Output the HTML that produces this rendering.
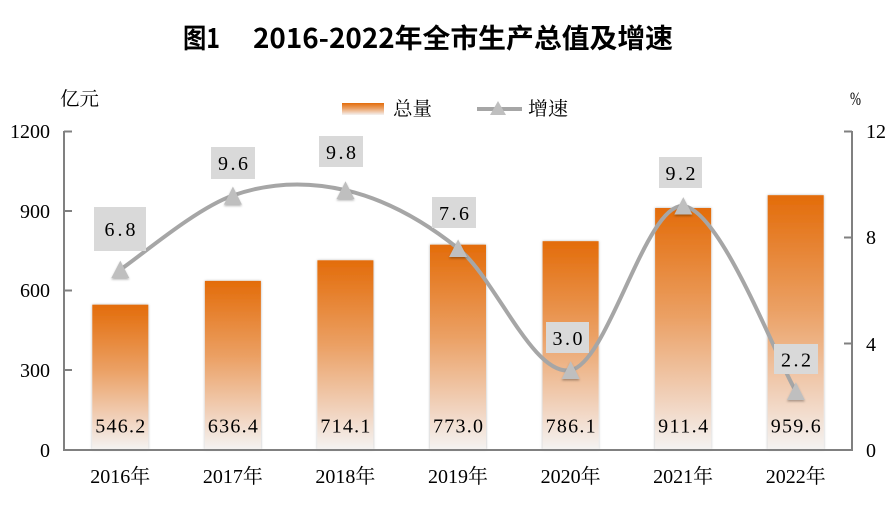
<!DOCTYPE html>
<html><head><meta charset="utf-8"><style>
html,body{margin:0;padding:0;background:#fff;}
svg{display:block;}
</style></head><body>
<svg width="896" height="505" viewBox="0 0 896 505" xmlns="http://www.w3.org/2000/svg">
<defs>
<linearGradient id="bg" x1="0" y1="0" x2="0" y2="1">
<stop offset="0" stop-color="#E36C0A"/>
<stop offset="0.45" stop-color="#EBA064"/>
<stop offset="0.8" stop-color="#F1D3BE"/>
<stop offset="1" stop-color="#F4F3F2"/>
</linearGradient>
<filter id="sh" x="-20%" y="-5%" width="140%" height="110%">
<feDropShadow dx="0" dy="0" stdDeviation="1.3" flood-color="#000" flood-opacity="0.3"/>
</filter>
<filter id="tsh" x="-30%" y="-30%" width="160%" height="170%">
<feDropShadow dx="0" dy="1.5" stdDeviation="1" flood-color="#000" flood-opacity="0.3"/>
</filter>
</defs>
<rect width="896" height="505" fill="#fff"/>

<!-- Title -->
<g font-family="'Noto Sans CJK SC','WenQuanYi Zen Hei',sans-serif" font-weight="bold" font-size="27" fill="#000">
<text x="183" y="48" textLength="37" lengthAdjust="spacingAndGlyphs">图1</text>
<text x="253" y="48" textLength="420" lengthAdjust="spacingAndGlyphs">2016-2022年全市生产总值及增速</text>
</g>

<!-- Legend -->
<rect x="342" y="103" width="42" height="12" fill="url(#bg)"/>
<text x="393" y="115" font-family="'Noto Serif CJK SC','Noto Sans CJK SC',serif" font-size="19" fill="#000" textLength="39" lengthAdjust="spacingAndGlyphs">总量</text>
<line x1="477" y1="109" x2="522" y2="109" stroke="#A6A6A6" stroke-width="4"/>
<polygon points="498,101 506,115 490,115" fill="#BFBFBF"/>
<text x="528" y="115" font-family="'Noto Serif CJK SC','Noto Sans CJK SC',serif" font-size="19" fill="#000" textLength="40" lengthAdjust="spacingAndGlyphs">增速</text>

<!-- Axis units -->
<text x="60" y="105" font-family="'Noto Serif CJK SC','Noto Sans CJK SC',serif" font-size="19" fill="#000" textLength="39" lengthAdjust="spacingAndGlyphs">亿元</text>
<text x="850" y="105" font-family="'Liberation Serif',serif" font-size="19" fill="#000" textLength="11" lengthAdjust="spacingAndGlyphs">%</text>

<!-- Left axis labels -->
<g font-family="'Liberation Serif',serif" font-size="20" fill="#000" text-anchor="end">
<text x="50" y="138">1200</text>
<text x="50" y="218">900</text>
<text x="50" y="297">600</text>
<text x="50" y="377">300</text>
<text x="50" y="457">0</text>
</g>
<!-- Right axis labels -->
<g font-family="'Liberation Serif',serif" font-size="20" fill="#000">
<text x="866" y="138">12</text>
<text x="866" y="244">8</text>
<text x="866" y="351">4</text>
<text x="866" y="457">0</text>
</g>

<!-- Bars -->
<g filter="url(#sh)">
<rect x="92.3" y="304.7" width="56" height="144.8" fill="url(#bg)"/>
<rect x="204.9" y="280.9" width="56" height="168.6" fill="url(#bg)"/>
<rect x="317.4" y="260.3" width="56" height="189.2" fill="url(#bg)"/>
<rect x="430" y="244.7" width="56" height="204.8" fill="url(#bg)"/>
<rect x="542.6" y="241.2" width="56" height="208.3" fill="url(#bg)"/>
<rect x="655.1" y="208" width="56" height="241.5" fill="url(#bg)"/>
<rect x="767.7" y="195.2" width="56" height="254.3" fill="url(#bg)"/>
</g>

<!-- Bar value labels -->
<g font-family="'Liberation Serif',serif" font-size="20" fill="#000" text-anchor="middle">
<text x="120.3" y="432.5" textLength="50" lengthAdjust="spacing">546.2</text>
<text x="232.9" y="432.5" textLength="50" lengthAdjust="spacing">636.4</text>
<text x="345.4" y="432.5" textLength="50" lengthAdjust="spacing">714.1</text>
<text x="458" y="432.5" textLength="50" lengthAdjust="spacing">773.0</text>
<text x="570.6" y="432.5" textLength="50" lengthAdjust="spacing">786.1</text>
<text x="683.1" y="432.5" textLength="50" lengthAdjust="spacing">911.4</text>
<text x="795.7" y="432.5" textLength="50" lengthAdjust="spacing">959.6</text>
</g>

<!-- Axes -->
<g stroke="#808080" stroke-width="2" fill="none">
<line x1="64" y1="131" x2="64" y2="451"/>
<line x1="63" y1="450" x2="853" y2="450"/>
<line x1="852" y1="131" x2="852" y2="451"/>
<line x1="64" y1="131.5" x2="72" y2="131.5"/>
<line x1="64" y1="211" x2="72" y2="211"/>
<line x1="64" y1="290.5" x2="72" y2="290.5"/>
<line x1="64" y1="370" x2="72" y2="370"/>
<line x1="844" y1="131.5" x2="852" y2="131.5"/>
<line x1="844" y1="237.5" x2="852" y2="237.5"/>
<line x1="844" y1="343.5" x2="852" y2="343.5"/>
</g>

<!-- X labels -->
<g font-family="'Liberation Serif','Noto Serif CJK SC',serif" font-size="20" fill="#000" text-anchor="middle">
<text x="120.3" y="483">2016年</text>
<text x="232.9" y="483">2017年</text>
<text x="345.4" y="483">2018年</text>
<text x="458" y="483">2019年</text>
<text x="570.6" y="483">2020年</text>
<text x="683.1" y="483">2021年</text>
<text x="795.7" y="483">2022年</text>
</g>

<!-- Growth line -->
<path d="M120.3,269.6 C139.1,257.3 195.4,208.7 232.9,195.5 C270.4,182.3 308,181.4 345.5,190.2 C383,199 420.6,218.4 458.1,248.4 C495.6,278.4 533.2,377.2 570.7,370.1 C608.2,363.1 645.8,202.6 683.3,206.1 C720.8,209.6 777.1,360.4 795.9,391.3" fill="none" stroke="#A6A6A6" stroke-width="4" stroke-linecap="round"/>

<!-- Markers -->
<g fill="#BFBFBF" filter="url(#tsh)">
<polygon points="120.3,260.6 129.3,278 111.3,278"/>
<polygon points="232.9,186.5 241.9,204.5 223.9,204.5"/>
<polygon points="345.5,181.2 354.5,199 336.5,199"/>
<polygon points="458.1,239.4 467.1,257 449.1,257"/>
<polygon points="570.7,361.1 579.7,379 561.7,379"/>
<polygon points="683.3,197.1 692.3,214.5 674.3,214.5"/>
<polygon points="795.9,382.3 804.9,400 786.9,400"/>
</g>

<!-- Line labels -->
<g fill="#D9D9D9">
<rect x="94" y="207" width="52" height="44"/>
<rect x="211" y="147" width="44" height="32"/>
<rect x="319" y="136" width="44" height="31"/>
<rect x="432" y="197" width="44" height="31"/>
<rect x="659" y="157" width="43" height="31"/>
<rect x="546" y="322" width="43" height="31"/>
<rect x="774" y="344" width="44" height="30"/>
</g>
<g font-family="'Liberation Serif',serif" font-size="20" fill="#000" text-anchor="middle">
<text x="120" y="236" textLength="31" lengthAdjust="spacing">6.8</text>
<text x="233" y="170" textLength="30" lengthAdjust="spacing">9.6</text>
<text x="341" y="159" textLength="30" lengthAdjust="spacing">9.8</text>
<text x="454" y="220" textLength="30" lengthAdjust="spacing">7.6</text>
<text x="680.5" y="180" textLength="30" lengthAdjust="spacing">9.2</text>
<text x="567.5" y="345" textLength="30" lengthAdjust="spacing">3.0</text>
<text x="796" y="366.5" textLength="30" lengthAdjust="spacing">2.2</text>
</g>
</svg>
</body></html>
